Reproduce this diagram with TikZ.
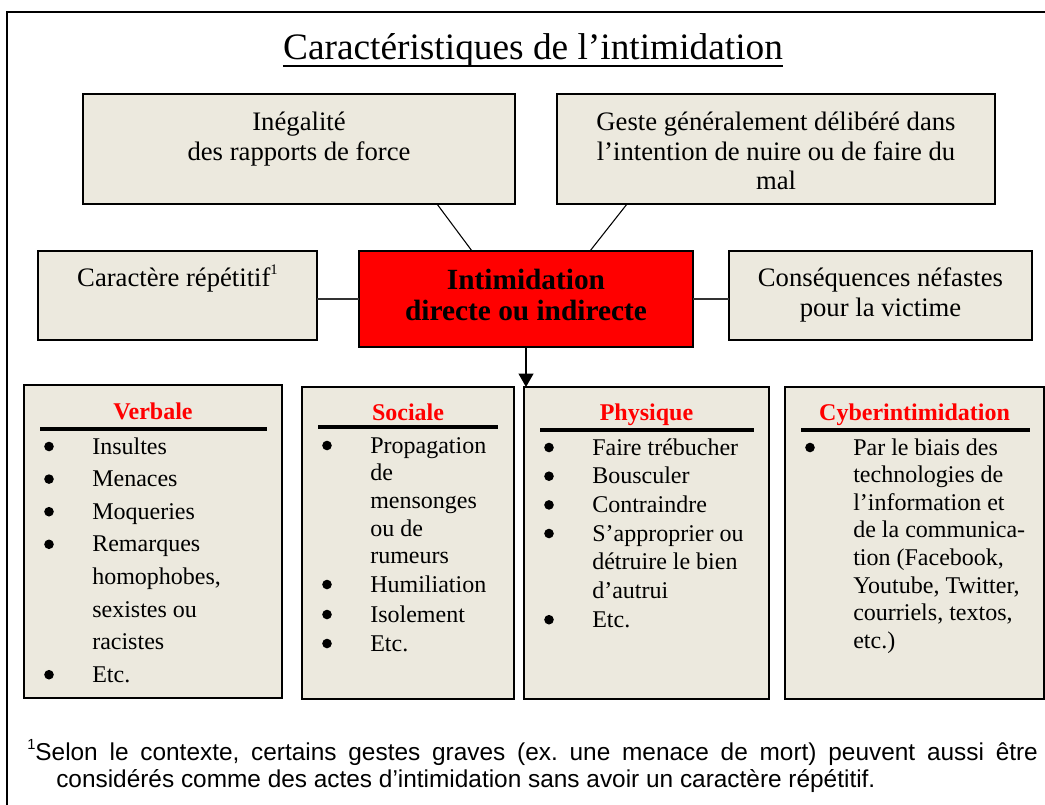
\documentclass[tikz,border=0pt]{standalone}
\usepackage{fontspec}
\setmainfont{Liberation Serif}
\newfontfamily\arialfont{Liberation Sans}
\usetikzlibrary{arrows.meta,fit}
\definecolor{boxbg}{RGB}{236,233,222}
\definecolor{redbox}{RGB}{255,0,0}
\definecolor{hdrred}{RGB}{255,0,0}
\frenchspacing
\newcommand\smallsup[1]{\raisebox{0.45em}{\fontsize{11}{12}\selectfont #1}}
\begin{document}
\begin{tikzpicture}[x=0.75pt,y=-0.75pt,
  box/.style={draw=black, line width=1.4pt, fill=boxbg, inner sep=0pt, outer sep=0pt},
  redstyle/.style={draw=black, line width=1.4pt, fill=redbox, inner sep=0pt, outer sep=0pt},
  txt/.style={inner sep=0pt, anchor=base},
  toptxt/.style={txt, font=\fontsize{20}{24}\selectfont},
  redtxt/.style={txt, font=\fontsize{22}{26}\selectfont\bfseries},
  hdr/.style={txt, font=\fontsize{18}{22}\selectfont\bfseries, text=hdrred},
  listtxt/.style={inner sep=0pt, anchor=base west, font=\fontsize{18}{22}\selectfont},
  rule/.style={line width=2.4pt},
  link/.style={line width=0.8pt},
  hlink/.style={line width=1.4pt, draw=black!80},
  bul/.style={fill=black}
]
\useasboundingbox (0,0) rectangle (1045,804);

% outer frame
\draw[line width=1.5pt] (7,810) -- (7,12) -- (1050,12);

% title
\node[txt, font=\fontsize{28}{34}\selectfont] (title) at (533,59) {Caractéristiques de l’intimidation};
\draw[line width=1.2pt] ([shift={(0,7)}]title.base west) -- ([shift={(0,7)}]title.base east);

% top boxes
\node[box, fit={(83,94) (515,204)}] (tl) {};
\node[box, fit={(557,94) (995,204)}] (tr) {};
\node[toptxt] (tl1) at (299,130.5) {Inégalité};
\node[toptxt] (tl2) at (299,160) {des rapports de force};
\node[toptxt] (tr1) at (776,130.5) {Geste généralement délibéré dans};
\node[toptxt] (tr2) at (776,160) {l’intention de nuire ou de faire du};
\node[toptxt] (tr3) at (776,189.5) {mal};

% middle row
\node[box, fit={(38,251) (317,340)}] (ml) {};
\node[redstyle, fit={(359,251) (693,347)}] (red) {};
\node[box, fit={(729,251) (1032,340)}] (mr) {};
\node[toptxt] (ml1) at (177.5,286.5) {Caractère répétitif\smallsup{1}};
\node[redtxt] (red1) at (526,289.5) {Intimidation};
\node[redtxt] (red2) at (526,320.5) {directe ou indirecte};
\node[toptxt] (mr1) at (880.5,286) {Conséquences néfastes};
\node[toptxt] (mr2) at (880.5,316) {pour la victime};

% bottom boxes
\node[box, fit={(24,385) (282,698)}] (verb) {};
\node[box, fit={(302,387) (514,699)}] (soc) {};
\node[box, fit={(524,387) (769,699)}] (phy) {};
\node[box, fit={(785,387) (1044,699)}] (cyb) {};

% connectors
\draw[link] ([shift={(138,0)}]tl.south) -- ([shift={(-54,0)}]red.north);
\draw[link] ([shift={(-149,0)}]tr.south) -- ([shift={(64,0)}]red.north);
\draw[hlink] (red.west) -- (red.west -| ml.east);
\draw[hlink] (red.east) -- (red.east -| mr.west);
\draw[line width=1.4pt, -{Triangle[width=11pt,length=10pt]}] (red.south) -- (red.south |- phy.north);

% headers and rules
\node[hdr] (verbh) at (153,419.5) {Verbale};
\draw[rule] (40,429) -- (267,429);
\node[hdr] (soch) at (408,420) {Sociale};
\draw[rule] (318,427) -- (498,427);
\node[hdr] (phyh) at (646.5,420) {Physique};
\draw[rule] (540,430) -- (754,430);
\node[hdr] (cybh) at (914.5,420) {Cyberintimidation};
\draw[rule] (801,430) -- (1030,430);

% Verbale list
\foreach \y/\b/\t [count=\i] in {454/1/Insultes, 486.6/1/Menaces, 519.2/1/Moqueries, 551.8/1/Remarques, 584.4/0/{homophobes,}, 617/0/sexistes ou, 649.6/0/racistes, 682.2/1/Etc.}{
  \node[listtxt] (verb-\i) at (92,\y) {\t};
  \ifnum\b=1 \fill[bul] (49,\y-7.5) circle[radius=3.6pt];\fi
}
% Sociale list
\foreach \y/\b/\t [count=\i] in {453/1/Propagation, 480/0/de, 508/0/mensonges, 536/0/ou de, 563/0/rumeurs, 592/1/Humiliation, 622/1/Isolement, 651/1/Etc.}{
  \node[listtxt] (soc-\i) at (370,\y) {\t};
  \ifnum\b=1 \fill[bul] (327,\y-7.5) circle[radius=3.6pt];\fi
}
% Physique list
\foreach \y/\b/\t [count=\i] in {455/1/Faire trébucher, 483.7/1/Bousculer, 512.4/1/Contraindre, 541/1/S’approprier ou, 569.8/0/détruire le bien, 598.5/0/d’autrui, 627.2/1/Etc.}{
  \node[listtxt] (phy-\i) at (592,\y) {\t};
  \ifnum\b=1 \fill[bul] (549,\y-7.5) circle[radius=3.6pt];\fi
}
% Cyber list
\foreach \y/\b/\t [count=\i] in {455/1/Par le biais des, 482.6/0/technologies de, 510.2/0/l’information et, 537.8/0/de la communica-, 565.4/0/{tion (Facebook,}, 593/0/{Youtube, Twitter,}, 620.6/0/{courriels, textos,}, 648.2/0/etc.)}{
  \node[listtxt] (cyb-\i) at (853,\y) {\t};
  \ifnum\b=1 \fill[bul] (810,\y-7.5) circle[radius=3.6pt];\fi
}

% footnote
\node[inner sep=0pt, anchor=base west, font=\arialfont\fontsize{18.3}{22}\selectfont] (fn1) at (27,760)
  {\makebox[758pt][s]{\smallsup{1}Selon le contexte, certains gestes graves (ex. une menace de mort) peuvent aussi être}};
\node[inner sep=0pt, anchor=base west, font=\arialfont\fontsize{18.3}{22}\selectfont] (fn2) at (56,787)
  {considérés comme des actes d’intimidation sans avoir un caractère répétitif.};
\end{tikzpicture}
\end{document}
